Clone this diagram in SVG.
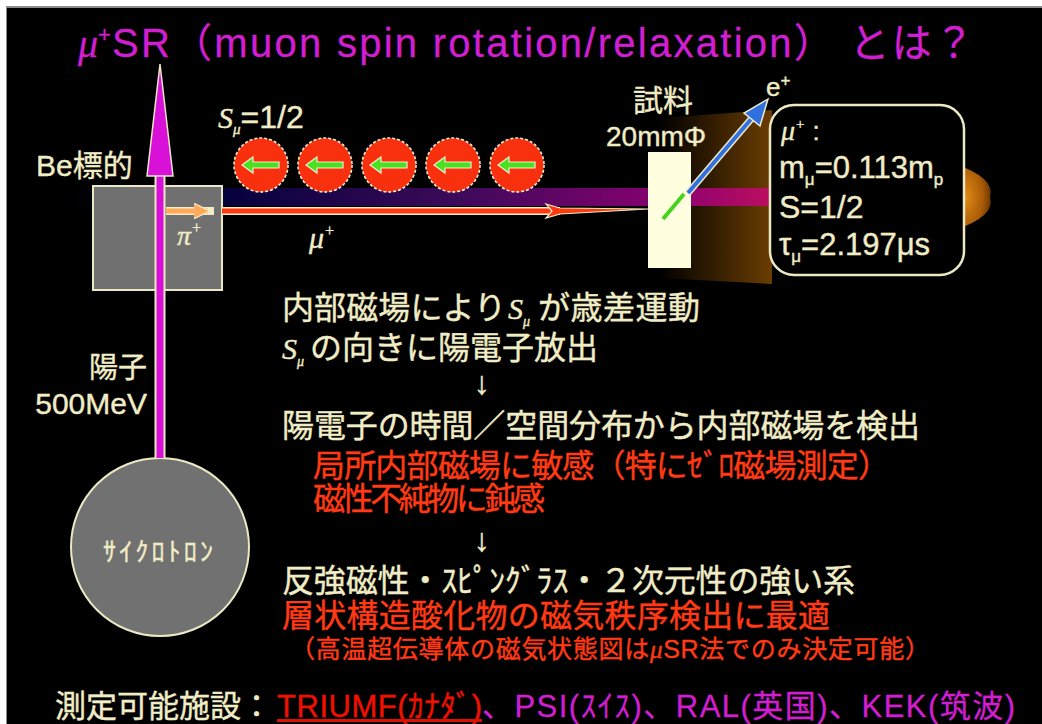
<svg xmlns="http://www.w3.org/2000/svg" width="1042" height="724" viewBox="0 0 1042 724">
  <defs>
    <style>
      .jp { font-family: 'Liberation Sans', 'Noto Sans CJK JP', sans-serif; }
      .cream { fill: #f0ecc6; }
      .red { fill: #ff3a14; }
      .mag { fill: #d11ed1; }
      text.cream { stroke: #f0ecc6; stroke-width: 0.4; }
      text.red { stroke: #ff3a14; stroke-width: 0.4; }
      text.mag { stroke: #d11ed1; stroke-width: 0.3; }
      .it { font-family: 'Liberation Serif', 'DejaVu Serif', serif; font-style: italic; }
    </style>
    <linearGradient id="beamBand" gradientUnits="userSpaceOnUse" x1="60" y1="0" x2="780" y2="0">
      <stop offset="0" stop-color="#000020" stop-opacity="0"/>
      <stop offset="0.2" stop-color="#00003a"/>
      <stop offset="0.55" stop-color="#3c0a5a"/>
      <stop offset="0.85" stop-color="#8a0070"/>
      <stop offset="1" stop-color="#c0105e"/>
    </linearGradient>
    <linearGradient id="glowBrown" gradientUnits="userSpaceOnUse" x1="660" y1="0" x2="775" y2="0">
      <stop offset="0" stop-color="#000000"/>
      <stop offset="1" stop-color="#6e3e02"/>
    </linearGradient>
    <radialGradient id="glowOrange" cx="0.3" cy="0.5" r="0.7">
      <stop offset="0" stop-color="#e08a18"/>
      <stop offset="0.7" stop-color="#a85a06"/>
      <stop offset="1" stop-color="#6a3802"/>
    </radialGradient>
    <marker id="pionHead" viewBox="0 0 10 10" refX="9" refY="5" markerWidth="3.2" markerHeight="3.2" orient="auto" markerUnits="strokeWidth">
      <path d="M0,0 L10,5 L0,10 Z" fill="#ffa858" stroke="#f0ecc6" stroke-width="0.8"/>
    </marker>
    <g id="spin">
      <circle r="27" fill="#f8300e" stroke="#f4f0d8" stroke-width="1.6" stroke-dasharray="3 2"/>
      <path d="M-19,0 L-8,-8 L-8,-3 L18,-3 L18,3 L-8,3 L-8,8 Z" fill="#48e020" stroke="#f0f0d0" stroke-width="1.2"/>
    </g>
  </defs>

  <!-- page -->
  <rect x="0" y="0" width="1042" height="724" fill="#ffffff"/>
  <rect x="6" y="6" width="1036" height="718" fill="#8a8a8a"/>
  <rect x="7" y="8" width="1035" height="716" fill="#000000"/>

  <!-- title -->
  <g id="title">
    <text class="it mag" x="78" y="57" font-size="40">μ</text>
    <text class="jp mag" x="98" y="42" font-size="22">+</text>
    <text class="jp mag" x="112" y="57" font-size="40" textLength="862">SR（muon spin rotation/relaxation） とは？</text>
  </g>

  <!-- glows behind the beam -->
  <g id="glow">
    <polygon points="660,118 772,110 772,284 660,278" fill="url(#glowBrown)"/>
    <path d="M955,164 Q996,178 990,197 Q996,216 955,230 Z" fill="url(#glowOrange)"/>
    <rect x="60" y="188" width="712" height="18" fill="url(#beamBand)"/>
  </g>

  <!-- Be target -->
  <g id="target">
    <rect x="93" y="186" width="129" height="104" fill="#707070" stroke="#ece8c4" stroke-width="2"/>
    <text class="jp cream" x="36" y="176" font-size="30">Be標的</text>
    <text class="it cream" x="177" y="245" font-size="28">π<tspan font-size="16" dy="-12">+</tspan></text>
  </g>

  <!-- cyclotron -->
  <g id="cyclotron">
    <circle cx="160" cy="547" r="89" fill="#717171" stroke="#ece8c4" stroke-width="2"/>
    <text class="jp cream" x="103" y="561" font-size="26" textLength="110">ｻｲｸﾛﾄﾛﾝ</text>
    <text class="jp cream" x="147" y="378" font-size="29" text-anchor="end">陽子</text>
    <text class="jp cream" x="147" y="414" font-size="30" text-anchor="end">500MeV</text>
  </g>

  <!-- connectors -->
  <g id="connectors">
    <!-- proton beam -->
    <line x1="160" y1="458" x2="160" y2="172" stroke="#ece8c4" stroke-width="11"/>
    <line x1="160" y1="458" x2="160" y2="172" stroke="#d810d8" stroke-width="7"/>
    <polygon points="160,64 173,176 147,176" fill="#d810d8" stroke="#ece8c4" stroke-width="1.5"/>
    <!-- pion -->
    <line x1="166" y1="211" x2="214" y2="211" stroke="#f0ecc6" stroke-width="8"/>
    <line x1="166" y1="211" x2="208" y2="211" stroke="#ffa858" stroke-width="5" marker-end="url(#pionHead)"/>
    <!-- muon beam -->
    <line x1="222" y1="211" x2="560" y2="211" stroke="#f0ecc6" stroke-width="8"/>
    <line x1="222" y1="211" x2="560" y2="211" stroke="#ff3a10" stroke-width="5"/>
    <polygon points="546,204 560,208 648,209 560,214 546,218 552,211" fill="#ff3a10" stroke="#f0ecc6" stroke-width="1.2"/>
  </g>

  <!-- polarized muons -->
  <g id="muons">
    <use href="#spin" x="261" y="165"/>
    <use href="#spin" x="325" y="165"/>
    <use href="#spin" x="389" y="165"/>
    <use href="#spin" x="453" y="165"/>
    <use href="#spin" x="517" y="165"/>
    <text class="it cream" x="218" y="128" font-size="30">S<tspan font-size="15" dy="6">μ</tspan><tspan class="jp" font-style="normal" font-size="32" dy="-6">=1/2</tspan></text>
    <text class="it cream" x="309" y="248" font-size="30">μ<tspan font-size="16" dy="-12">+</tspan></text>
  </g>

  <!-- sample -->
  <g id="sample">
    <rect x="648" y="152" width="43" height="116" fill="#ffffe0"/>
    <line x1="663" y1="219" x2="684" y2="194" stroke="#44d420" stroke-width="4"/>
    <line x1="688" y1="193" x2="752" y2="118" stroke="#ece8c4" stroke-width="7"/>
    <line x1="688" y1="193" x2="752" y2="118" stroke="#3070e0" stroke-width="4"/>
    <polygon points="768,99 760,126 744,113" fill="#3070e0" stroke="#ece8c4" stroke-width="1.5"/>
    <text class="jp cream" x="633" y="111" font-size="30">試料</text>
    <text class="jp cream" x="606" y="146" font-size="28">20mmΦ</text>
    <text class="jp cream" x="766" y="96" font-size="26">e<tspan font-size="17" dy="-10">+</tspan></text>
  </g>

  <!-- muon properties -->
  <g id="muon-props">
    <rect x="770" y="105" width="194" height="170" rx="24" fill="#000000" stroke="#ece8c4" stroke-width="2.5"/>
    <text class="it cream" x="781" y="140" font-size="28">μ<tspan font-size="15" dy="-11">+</tspan><tspan class="jp" font-style="normal" font-size="26" dy="11"> :</tspan></text>
    <text class="jp cream" x="779" y="178" font-size="31">m<tspan font-size="17" dy="7">μ</tspan><tspan dy="-7">=0.113m</tspan><tspan font-size="17" dy="7">p</tspan></text>
    <text class="jp cream" x="779" y="218" font-size="32">S=1/2</text>
    <text class="jp cream" x="779" y="255" font-size="31">τ<tspan font-size="17" dy="7">μ</tspan><tspan dy="-7">=2.197μs</tspan></text>
  </g>

  <!-- explanation -->
  <g id="explanation">
    <text class="jp cream" x="282" y="319" font-size="32" textLength="224">内部磁場により</text>
    <text class="it cream" x="508" y="319" font-size="30">S<tspan font-size="14" dy="7">μ</tspan></text>
    <text class="jp cream" x="538" y="319" font-size="32" textLength="162">が歳差運動</text>
    <text class="it cream" x="282" y="359" font-size="30">S<tspan font-size="14" dy="7">μ</tspan></text>
    <text class="jp cream" x="310" y="359" font-size="32" textLength="288">の向きに陽電子放出</text>
    <text class="jp cream" x="474" y="394" font-size="32">↓</text>
    <text class="jp cream" x="282" y="437" font-size="32" textLength="638">陽電子の時間／空間分布から内部磁場を検出</text>
    <text class="jp red" x="313" y="477" font-size="32" textLength="577">局所内部磁場に敏感（特にｾﾞﾛ磁場測定）</text>
    <text class="jp red" x="313" y="510" font-size="32" textLength="232">磁性不純物に鈍感</text>
    <text class="jp cream" x="474" y="551" font-size="32">↓</text>
    <text class="jp cream" x="282" y="592" font-size="32" textLength="573">反強磁性・ｽﾋﾟﾝｸﾞﾗｽ・２次元性の強い系</text>
    <text class="jp red" x="282" y="627" font-size="32" textLength="548">層状構造酸化物の磁気秩序検出に最適</text>
    <text class="jp red" x="290" y="658" font-size="25" textLength="640">（高温超伝導体の磁気状態図は<tspan class="it">μ</tspan>SR法でのみ決定可能）</text>
  </g>

  <!-- facilities -->
  <g id="facilities">
    <text class="jp cream" x="55" y="717" font-size="31" textLength="217">測定可能施設：</text>
    <text class="jp" x="277" y="717" font-size="31" fill="#ee1100" stroke="#ee1100" stroke-width="0.4" textLength="205">TRIUMF(ｶﾅﾀﾞ)</text>
    <rect x="277" y="719" width="205" height="3" fill="#dd1100"/>
    <text class="jp mag" x="482" y="717" font-size="31" textLength="533">、PSI(ｽｲｽ)、RAL(英国)、KEK(筑波)</text>
  </g>
</svg>
